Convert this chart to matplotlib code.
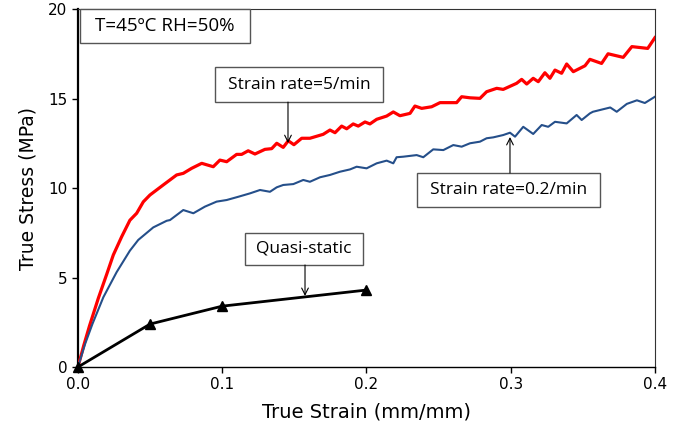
import matplotlib
matplotlib.use("Agg")
import matplotlib.pyplot as plt
from matplotlib.patches import Rectangle

# Strain rate = 5/min (red)
fast_strain = [0, 0.004, 0.008, 0.0141, 0.02, 0.0245, 0.0303, 0.036, 0.0407, 0.0453,
               0.0499, 0.0591, 0.0684, 0.073, 0.0788, 0.0858, 0.0938, 0.0984, 0.1031,
               0.110, 0.1135, 0.118, 0.1227, 0.1296, 0.1343, 0.1378, 0.1423, 0.1458,
               0.1497, 0.1551, 0.1608, 0.170, 0.1747, 0.1782, 0.1828, 0.1863, 0.1908,
               0.1943, 0.199, 0.2024, 0.2071, 0.214, 0.2186, 0.2232, 0.2302, 0.2336,
               0.2383, 0.2452, 0.251, 0.2625, 0.266, 0.2718, 0.2787, 0.2833, 0.2903,
               0.2948, 0.3041, 0.3076, 0.3111, 0.3156, 0.3191, 0.3237, 0.3272, 0.3307,
               0.3353, 0.3388, 0.3434, 0.3515, 0.3549, 0.363, 0.3675, 0.378, 0.384,
               0.395, 0.4]
fast_stress = [0, 1.2, 2.3, 3.84, 5.2, 6.26, 7.28, 8.2, 8.59, 9.23,
               9.61, 10.17, 10.73, 10.82, 11.10, 11.38, 11.19, 11.56, 11.47,
               11.88, 11.88, 12.08, 11.90, 12.16, 12.20, 12.50, 12.27, 12.64,
               12.42, 12.78, 12.78, 13.0, 13.24, 13.09, 13.46, 13.31, 13.58,
               13.46, 13.69, 13.58, 13.84, 14.02, 14.25, 14.04, 14.17, 14.58,
               14.45, 14.54, 14.77, 14.77, 15.10, 15.04, 15.01, 15.38, 15.57,
               15.51, 15.85, 16.07, 15.81, 16.13, 15.94, 16.44, 16.13, 16.59,
               16.41, 16.93, 16.50, 16.83, 17.19, 16.96, 17.5, 17.3, 17.9,
               17.8, 18.4]

# Strain rate = 0.2/min (blue)
slow_strain = [0, 0.005, 0.01, 0.0176, 0.0268, 0.036, 0.0418, 0.0522, 0.0615, 0.0638,
               0.073, 0.080, 0.088, 0.0961, 0.1031, 0.1111, 0.1192, 0.1262, 0.1331,
               0.1378, 0.1423, 0.1493, 0.1562, 0.1608, 0.1678, 0.1747, 0.1816, 0.1886,
               0.1932, 0.2001, 0.2071, 0.214, 0.2186, 0.2209, 0.2255, 0.2348, 0.2394,
               0.2463, 0.2533, 0.2602, 0.266, 0.2718, 0.2787, 0.2833, 0.2879, 0.2948,
               0.2995, 0.303, 0.3087, 0.3156, 0.3215, 0.326, 0.3307, 0.3388, 0.3457,
               0.3492, 0.3549, 0.357, 0.369, 0.3735, 0.3805, 0.3875, 0.393, 0.4]
slow_stress = [0, 1.3, 2.4, 3.9, 5.3, 6.5, 7.1, 7.8, 8.17, 8.21,
               8.77, 8.59, 8.96, 9.24, 9.33, 9.51, 9.70, 9.89, 9.79,
               10.04, 10.17, 10.22, 10.45, 10.35, 10.60, 10.73, 10.91, 11.04,
               11.19, 11.10, 11.38, 11.53, 11.38, 11.72, 11.75, 11.84, 11.72,
               12.16, 12.12, 12.40, 12.31, 12.50, 12.59, 12.78, 12.83, 12.96,
               13.09, 12.87, 13.42, 13.02, 13.52, 13.42, 13.70, 13.61, 14.08,
               13.80, 14.17, 14.26, 14.5, 14.26, 14.7, 14.9, 14.75, 15.1]

# Quasi-static (black, triangles)
quasi_strain = [0, 0.05, 0.1, 0.2]
quasi_stress = [0, 2.4, 3.4, 4.3]

x_ticks = [0.0, 0.1, 0.2, 0.3, 0.4]
y_ticks = [0, 5, 10, 15, 20]

box_font = "Open Sans"

fig = plt.figure(figsize=(6.78, 4.28), dpi=100)
ax = fig.add_axes([0.115, 0.1425, 0.851, 0.8364])

ax.plot(fast_strain, fast_stress, color="#ff0000", lw=2.3, zorder=3)
ax.plot(slow_strain, slow_stress, color="#254f8a", lw=1.5, zorder=3)
ax.plot(quasi_strain, quasi_stress, color="black", lw=2.0, marker="^",
        markersize=7, zorder=4, clip_on=False)

ax.set_xlim(0, 0.4)
ax.set_ylim(0, 20)
ax.set_xticks(x_ticks)
ax.set_xticklabels([f"{t:.1f}" for t in x_ticks])
ax.set_yticks(y_ticks)
ax.tick_params(direction="out", length=4, width=1, labelsize=11, top=False, right=False)
ax.set_xlabel("True Strain (mm/mm)", fontsize=14, labelpad=7)
ax.set_ylabel("True Stress (MPa)", fontsize=13.5, labelpad=8)

ax.spines["left"].set_linewidth(1.6)
ax.spines["bottom"].set_linewidth(1.0)
for side in ["top", "right"]:
    ax.spines[side].set_linewidth(0.8)
    ax.spines[side].set_color("#333333")


def label_box(x0, x1, y0, y1, text, size=12.5):
    ax.add_patch(Rectangle((x0, y0), x1 - x0, y1 - y0, facecolor="white",
                           edgecolor="#555555", lw=1.0, zorder=5, clip_on=False))
    ax.text((x0 + x1) / 2, (y0 + y1) / 2, text, ha="center", va="center",
            fontsize=size, family=box_font, zorder=6)


def pointer(x, y_from, y_to):
    ax.annotate("", xy=(x, y_to), xytext=(x, y_from),
                arrowprops=dict(arrowstyle="->", color="black", lw=0.8,
                                shrinkA=0, shrinkB=0, mutation_scale=12), zorder=6)


label_box(0.0014, 0.1192, 18.1, 20.0, "T=45\u00baC RH=50%", size=13.5)

label_box(0.095, 0.2114, 14.80, 16.76, "Strain rate=5/min")
pointer(0.1456, 14.80, 12.51)

label_box(0.235, 0.3619, 8.94, 10.84, "Strain rate=0.2/min")
pointer(0.2995, 10.84, 12.85)

label_box(0.1158, 0.1976, 5.70, 7.49, "Quasi-static")
pointer(0.1574, 5.70, 3.97)

fig.savefig("out.png", dpi=100)
